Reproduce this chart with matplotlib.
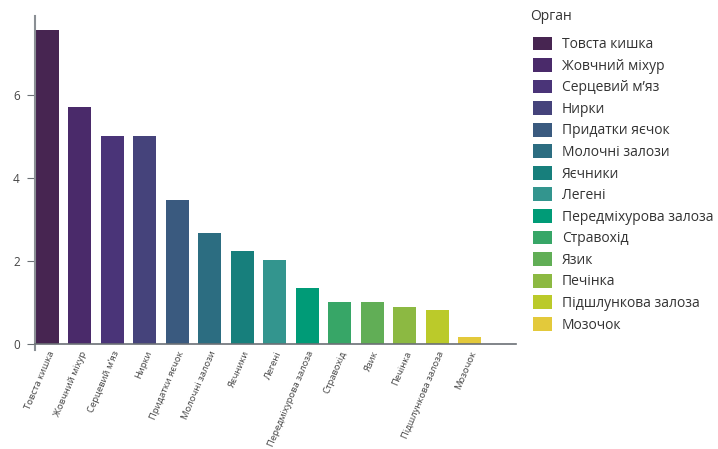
import matplotlib.pyplot as plt
from matplotlib.patches import Patch

plt.rcParams['font.family'] = ['Open Sans', 'DejaVu Sans']

# Data
organs = ['Товста кишка', 'Жовчний міхур', 'Серцевий м’яз', 'Нирки',
          'Придатки яєчок', 'Молочні залози', 'Яєчники', 'Легені',
          'Передміхурова залоза', 'Стравохід', 'Язик', 'Печінка',
          'Підшлункова залоза', 'Мозочок']
values = [7.57, 5.71, 5.0, 5.0, 3.47, 2.67, 2.24, 2.02, 1.35, 1.01, 1.01,
          0.89, 0.82, 0.17]
colors = ['#472551', '#4a2a6a', '#4a3478', '#45437b', '#3a5a7f', '#2c6d81',
          '#177f7c', '#33958e', '#009b77', '#37a667', '#61ae56', '#8cb942',
          '#bbca2a', '#e3c93b']

fig = plt.figure(figsize=(7.18, 4.49), dpi=100)
ax = fig.add_axes([35 / 718, 1 - 344 / 449, (516 - 35) / 718, (344 - 16) / 449])

x = range(len(organs))
ax.bar(x, values, width=0.71, color=colors)

ax.set_xlim(-0.385, 14.43)
ax.set_ylim(0, 7.9)
ax.set_yticks([0, 2, 4, 6])
ax.set_xticks(list(x))
ax.set_xticklabels(organs, rotation=67, ha='right', rotation_mode='anchor',
                   fontsize=6.8, color='#444444')

for s in ['top', 'right']:
    ax.spines[s].set_visible(False)
ax.spines['left'].set_color('#8a8f94')
ax.spines['left'].set_linewidth(1.5)
ax.spines['left'].set_bounds(-0.15, 7.9)
ax.spines['bottom'].set_color('#6b7075')
ax.spines['bottom'].set_linewidth(1.2)
ax.tick_params(axis='y', length=6, color='#6b7075', labelsize=8.5,
               labelcolor='#444444', pad=5)
ax.tick_params(axis='x', length=0, pad=4)

handles = [Patch(facecolor=c, edgecolor='none') for c in colors]
fig.text(530 / 718, 1 - 16 / 449, 'Орган', fontsize=10, color='#333333',
         va='center', ha='left')
leg = fig.legend(handles, organs, loc='upper left',
                 bbox_to_anchor=(520 / 718, 1 - 24 / 449), frameon=False,
                 fontsize=10, handlelength=1.4, handleheight=1.15,
                 labelspacing=0.43, handletextpad=0.7)
for t in leg.get_texts():
    t.set_color('#333333')

fig.savefig('out.png', dpi=100)
